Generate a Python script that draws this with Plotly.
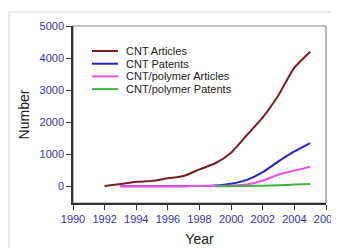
import plotly.graph_objects as go

years_art = [1992, 1993, 1994, 1995, 1996, 1997, 1998, 1999, 2000, 2001, 2002, 2003, 2004, 2005]
cnt_articles = [10, 70, 140, 170, 250, 320, 530, 720, 1050, 1600, 2150, 2850, 3700, 4200]

years_pat = [1993, 1994, 1995, 1996, 1997, 1998, 1999, 2000, 2001, 2002, 2003, 2004, 2005]
cnt_patents = [0, 0, 0, 0, 5, 10, 25, 80, 200, 440, 780, 1090, 1350]

years_poly_art = [1993, 1994, 1995, 1996, 1997, 1998, 1999, 2000, 2001, 2002, 2003, 2004, 2005]
poly_articles = [0, 0, 0, 0, 5, 10, 15, 25, 60, 175, 370, 490, 610]

years_poly_pat = [1999, 2000, 2001, 2002, 2003, 2004, 2005]
poly_patents = [0, 5, 10, 20, 35, 55, 70]

x_ticks = [1990, 1992, 1994, 1996, 1998, 2000, 2002, 2004, 2006]
y_ticks = [0, 1000, 2000, 3000, 4000, 5000]

series = [
    ("CNT Articles", years_art, cnt_articles, "#7a1c22"),
    ("CNT Patents", years_pat, cnt_patents, "#2424c4"),
    ("CNT/polymer Articles", years_poly_art, poly_articles, "#f04cf0"),
    ("CNT/polymer Patents", years_poly_pat, poly_patents, "#3cb83c"),
]

FONT = "Liberation Sans, Arial"
fig = go.Figure()
shapes = [
    dict(type="rect", xref="paper", yref="paper", x0=0, x1=1, y0=0, y1=1,
         line=dict(color="#888", width=1.2), layer="below"),
    dict(type="rect", xref="paper", yref="paper", x0=-64 / 253, x1=1.2, y0=-0.5, y1=1 + 14 / 177,
         line=dict(color="#e2e2e2", width=1.5), layer="below"),
]
annotations = []
# compact legend (plot area: 253 x 177 px, top at page y=26)
for i, (name, xs, ys, col) in enumerate(series):
    fig.add_trace(go.Scatter(x=xs, y=ys, name=name, mode="lines", showlegend=False,
                             line=dict(color=col, width=2, shape="spline", smoothing=0.6)))
    ly = (203 - (51 + 12.7 * i)) / 177
    shapes.append(dict(type="line", xref="paper", yref="paper", x0=19 / 253, x1=45 / 253,
                       y0=ly, y1=ly, line=dict(color=col, width=2)))
    annotations.append(dict(xref="paper", yref="paper", x=51 / 253, y=ly, text=name,
                            showarrow=False, xanchor="left", yanchor="middle",
                            font=dict(family=FONT, size=11, color="#222")))

tickfont = dict(family=FONT, size=11, color="#3434b0")
# page body has an 8px margin; compensate so the plot area sits at x 73..326, y 26..203
fig.update_layout(
    width=339, height=248,
    margin=dict(l=65, r=21, t=18, b=53),
    paper_bgcolor="white", plot_bgcolor="white",
    showlegend=False,
    xaxis=dict(range=[1990, 2006], tickvals=x_ticks, ticks="outside", ticklen=5,
               tickcolor="#333", showline=True, linecolor="#333", linewidth=1.5,
               showgrid=False, zeroline=False, tickfont=tickfont, automargin=False,
               title=dict(text="Year", font=dict(family=FONT, size=14, color="#222"), standoff=10)),
    yaxis=dict(range=[-520, 5000], tickvals=y_ticks, ticks="outside", ticklen=5,
               tickcolor="#333", showline=True, linecolor="#333", linewidth=1.5,
               showgrid=False, zeroline=False, tickfont=tickfont, automargin=False,
               title=dict(text="Number", font=dict(family=FONT, size=14, color="#222"), standoff=7)),
    shapes=shapes,
    annotations=annotations,
)

fig.write_html("out.html")
